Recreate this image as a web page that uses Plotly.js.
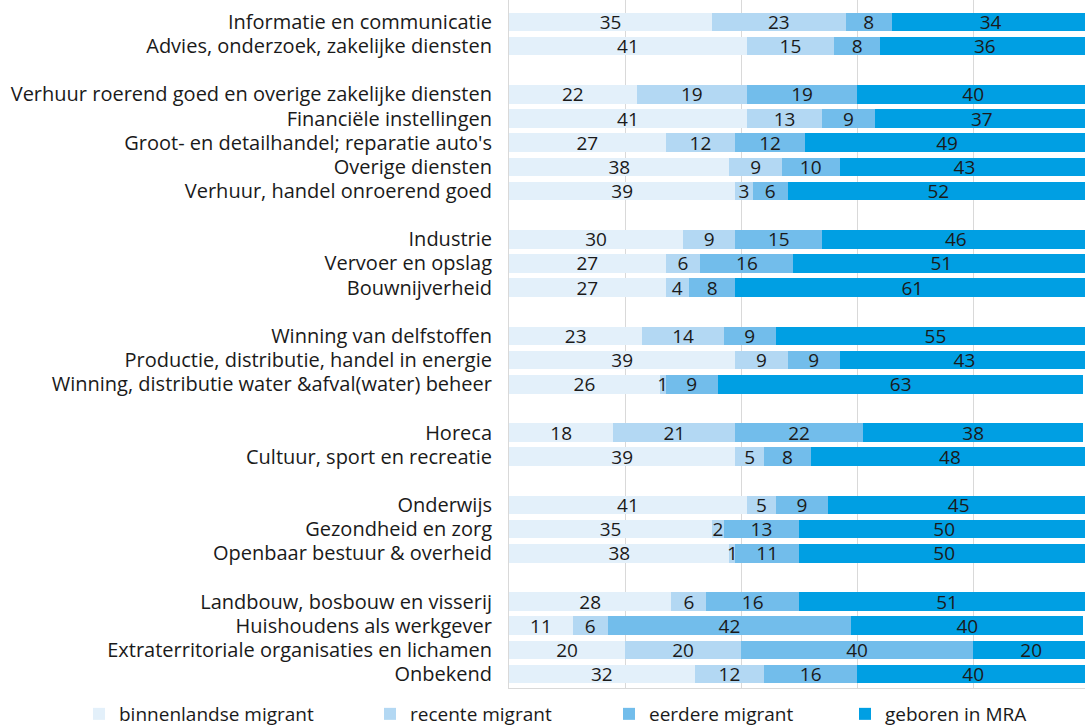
<!DOCTYPE html>
<html>
<head>
<meta charset="utf-8">
<script src="https://cdn.plot.ly/plotly-3.0.1.min.js"></script>
<style>html,body{margin:0;padding:0;background:#fff;overflow:hidden;width:1085px;height:726px;}#chart{width:1095px;height:726px;}</style>
</head>
<body>
<div id="chart"></div>
<script>
// Sector groups (order top to bottom); a blank row separates groups
const groups = [
  ["Informatie en communicatie", "Advies, onderzoek, zakelijke diensten"],
  ["Verhuur roerend goed en overige zakelijke diensten", "Financiële instellingen",
   "Groot- en detailhandel; reparatie auto's", "Overige diensten", "Verhuur, handel onroerend goed"],
  ["Industrie", "Vervoer en opslag", "Bouwnijverheid"],
  ["Winning van delfstoffen", "Productie, distributie, handel in energie",
   "Winning, distributie water &afval(water) beheer"],
  ["Horeca", "Cultuur, sport en recreatie"],
  ["Onderwijs", "Gezondheid en zorg", "Openbaar bestuur & overheid"],
  ["Landbouw, bosbouw en visserij", "Huishoudens als werkgever",
   "Extraterritoriale organisaties en lichamen", "Onbekend"]
];

const seriesNames = ["binnenlandse migrant", "recente migrant", "eerdere migrant", "geboren in MRA"];

const binnenlandse = [35, 41, 22, 41, 27, 38, 39, 30, 27, 27, 23, 39, 26, 18, 39, 41, 35, 38, 28, 11, 20, 32];
const recente      = [23, 15, 19, 13, 12,  9,  3,  9,  6,  4, 14,  9,  1, 21,  5,  5,  2,  1,  6,  6, 20, 12];
const eerdere      = [ 8,  8, 19,  9, 12, 10,  6, 15, 16,  8,  9,  9,  9, 22,  8,  9, 13, 11, 16, 42, 40, 16];
const geboren      = [34, 36, 40, 37, 49, 43, 52, 46, 51, 61, 55, 43, 63, 38, 48, 45, 50, 50, 51, 40, 20, 40];

const seriesValues = [binnenlandse, recente, eerdere, geboren];
const colors = ["#E3F0FA", "#B3D8F3", "#72BDEB", "#009FE3"];

// derive row positions from the groups (blank row between groups)
const categories = [];
const rowPos = [];
let pos = 0;
groups.forEach((g, gi) => {
  if (gi > 0) pos += 1;
  g.forEach(c => { categories.push(c); rowPos.push(pos); pos += 1; });
});

const FONT = "Open Sans, Lato, sans-serif";
const W = 1095;

const legendX = [79, 370, 609, 845];
const traces = seriesNames.map((name, i) => ({
  type: "bar",
  orientation: "h",
  name: name,
  x: seriesValues[i],
  y: rowPos,
  text: seriesValues[i].map(String),
  textposition: "inside",
  insidetextanchor: "middle",
  textangle: 0,
  constraintext: "none",
  cliponaxis: false,
  textfont: {family: FONT, size: 19, color: "#1a1a1a"},
  marker: {color: colors[i], line: {width: 0}},
  width: 0.77,
  hoverinfo: "skip",
  legend: i === 0 ? "legend" : "legend" + (i + 1)
}));

function legendDef(x) {
  return {
    orientation: "h", xref: "container", yref: "container",
    x: x / W, y: 1 - 714 / 726, xanchor: "left", yanchor: "middle",
    bgcolor: "rgba(0,0,0,0)", borderwidth: 0,
    font: {family: FONT, size: 19, color: "#1a1a1a"},
    itemclick: false, itemdoubleclick: false
  };
}

const layout = {
  width: W, height: 726,
  margin: {l: 509, r: 0, t: 0, b: 38, pad: 0},
  paper_bgcolor: "#ffffff", plot_bgcolor: "#ffffff",
  barmode: "stack",
  showlegend: true,
  legend: legendDef(legendX[0]),
  legend2: legendDef(legendX[1]),
  legend3: legendDef(legendX[2]),
  legend4: legendDef(legendX[3]),
  xaxis: {
    range: [0, 101], dtick: 20, tick0: 0,
    showticklabels: false, ticks: "",
    showgrid: true, gridcolor: "#D9D9D9", gridwidth: 1,
    zeroline: false, showline: true, linecolor: "#D9D9D9", linewidth: 1,
    fixedrange: true
  },
  yaxis: {
    range: [27.58, -0.91],
    tickmode: "array", tickvals: rowPos, ticktext: categories,
    ticks: "", ticklabelstandoff: 12,
    tickfont: {family: FONT, size: 20, color: "#1a1a1a"},
    showgrid: false, zeroline: false,
    showline: true, linecolor: "#D9D9D9", linewidth: 1,
    fixedrange: true
  },
  hovermode: false
};

Plotly.newPlot("chart", traces, layout, {displayModeBar: false, staticPlot: true});
</script>
</body>
</html>
